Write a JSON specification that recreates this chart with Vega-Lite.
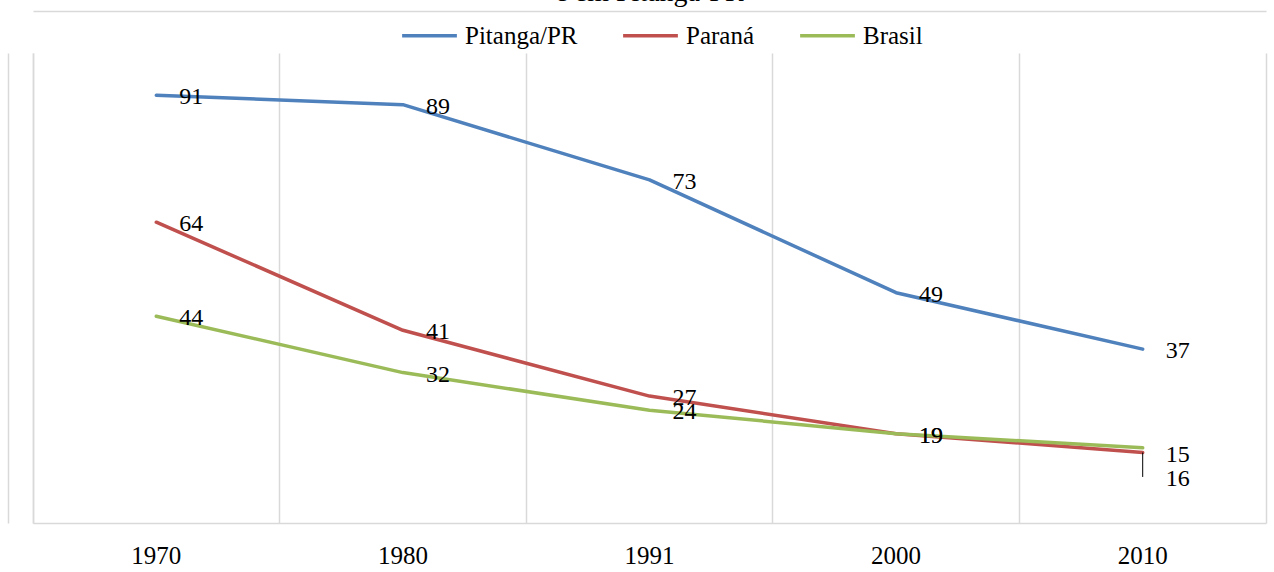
{
  "$schema": "https://vega.github.io/schema/vega-lite/v6.json",
  "width": 1233,
  "height": 470,
  "padding": {"left": 33, "top": 53, "right": 8, "bottom": 49},
  "autosize": {"type": "none"},
  "background": "white",
  "config": {
    "view": {"stroke": null},
    "font": "Liberation Serif, Times New Roman, serif",
    "text": {"font": "Liberation Serif, Times New Roman, serif"}
  },
  "title": {
    "text": "e em Pitanga-PR",
    "font": "Liberation Serif, Times New Roman, serif",
    "fontSize": 28,
    "fontWeight": "normal",
    "color": "black",
    "anchor": "middle",
    "frame": "group",
    "offset": 2,
    "dy": 3
  },
  "data": {
    "values": [
      {"year": "1970", "series": "Pitanga/PR", "value": 91},
      {"year": "1980", "series": "Pitanga/PR", "value": 89},
      {"year": "1991", "series": "Pitanga/PR", "value": 73},
      {"year": "2000", "series": "Pitanga/PR", "value": 49},
      {"year": "2010", "series": "Pitanga/PR", "value": 37},
      {"year": "1970", "series": "Paraná", "value": 64},
      {"year": "1980", "series": "Paraná", "value": 41},
      {"year": "1991", "series": "Paraná", "value": 27},
      {"year": "2000", "series": "Paraná", "value": 19},
      {"year": "2010", "series": "Paraná", "value": 15},
      {"year": "1970", "series": "Brasil", "value": 44},
      {"year": "1980", "series": "Brasil", "value": 32},
      {"year": "1991", "series": "Brasil", "value": 24},
      {"year": "2000", "series": "Brasil", "value": 19},
      {"year": "2010", "series": "Brasil", "value": 16}
    ]
  },
  "layer": [
    {
      "mark": {"type": "line", "strokeWidth": 3.5, "strokeCap": "round", "strokeJoin": "round"},
      "encoding": {
        "x": {
          "field": "year", "type": "ordinal", "bandPosition": 0.5,
          "scale": {"type": "band", "paddingInner": 0, "paddingOuter": 0},
          "axis": {
            "orient": "bottom", "title": null, "labelAngle": 0,
            "labelFont": "Liberation Serif, Times New Roman, serif", "labelFontSize": 25, "labelColor": "black",
            "labelPadding": 20, "ticks": false,
            "domainColor": "#d9d9d9", "domainWidth": 1.5,
            "grid": true, "gridColor": "#d9d9d9", "gridWidth": 1.5, "bandPosition": 0
          }
        },
        "y": {
          "field": "value", "type": "quantitative",
          "scale": {"domain": [0, 100], "nice": false, "zero": true},
          "axis": {
            "orient": "left", "title": null, "labels": false, "ticks": false, "grid": false,
            "domainColor": "#d9d9d9", "domainWidth": 1.5
          }
        },
        "color": {
          "field": "series", "type": "nominal",
          "scale": {"domain": ["Pitanga/PR", "Paraná", "Brasil"], "range": ["#4F81BD", "#C0504D", "#9BBB59"]},
          "legend": {
            "orient": "none", "legendX": 367, "legendY": -47, "direction": "horizontal",
            "title": null, "symbolType": "stroke", "symbolSize": 3000, "symbolStrokeWidth": 3.5,
            "labelFont": "Liberation Serif, Times New Roman, serif", "labelFontSize": 25, "labelColor": "black",
            "labelOffset": 6, "columnPadding": 38
          }
        }
      }
    },
    {
      "transform": [{"filter": "!(datum.series === 'Brasil' && datum.year === '2010')"}],
      "mark": {"type": "text", "align": "left", "baseline": "middle", "dx": 23, "dy": 2, "fontSize": 24, "color": "black", "font": "Liberation Serif, Times New Roman, serif"},
      "encoding": {
        "x": {
          "field": "year", "type": "ordinal", "bandPosition": 0.5,
          "axis": {"orient": "top", "offset": 42, "title": null, "labels": false, "ticks": false, "grid": false, "domainColor": "#d9d9d9", "domainWidth": 1.5}
        },
        "y": {
          "field": "value", "type": "quantitative",
          "axis": {"orient": "right", "title": null, "labels": false, "ticks": false, "grid": false, "domainColor": "#d9d9d9", "domainWidth": 1.5}
        },
        "text": {"field": "value", "type": "quantitative"}
      }
    },
    {
      "transform": [{"filter": "datum.series === 'Brasil' && datum.year === '2010'"}],
      "mark": {"type": "text", "align": "left", "baseline": "middle", "dx": 23, "dy": 31, "fontSize": 24, "color": "black", "font": "Liberation Serif, Times New Roman, serif"},
      "encoding": {
        "x": {"field": "year", "type": "ordinal", "bandPosition": 0.5, "axis": null},
        "y": {
          "field": "value", "type": "quantitative",
          "axis": {"orient": "left", "offset": 25, "title": null, "labels": false, "ticks": false, "grid": false, "domainColor": "#d9d9d9", "domainWidth": 1.5}
        },
        "text": {"field": "value", "type": "quantitative"}
      }
    },
    {
      "transform": [{"filter": "datum.series === 'Brasil' && datum.year === '2010'"}],
      "mark": {"type": "rule", "color": "black", "strokeWidth": 1},
      "encoding": {
        "x": {"field": "year", "type": "ordinal", "bandPosition": 0.5, "axis": null},
        "y": {"datum": 15, "type": "quantitative", "axis": null},
        "y2": {"datum": 9.8}
      }
    }
  ],
  "resolve": {"axis": {"x": "independent", "y": "independent"}}
}
